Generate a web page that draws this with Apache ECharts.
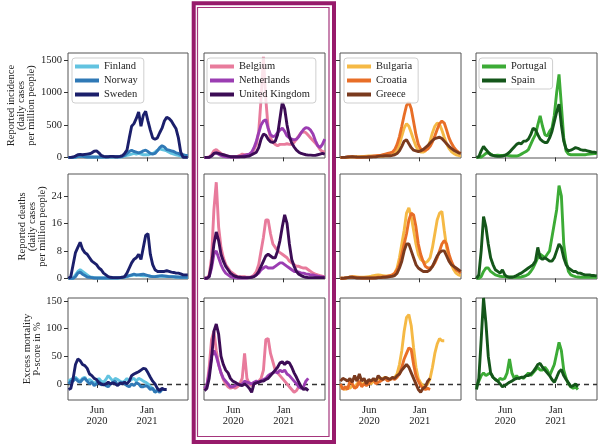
<!DOCTYPE html>
<html><head><meta charset="utf-8">
<script src="https://cdn.jsdelivr.net/npm/echarts@6/dist/echarts.min.js"></script>
<style>html,body{margin:0;padding:0;background:#fff}#c{width:598px;height:446px}</style>
</head><body><div id="c"></div>
<script>
// x positions: day number counted from 2020-01-01 (day 0)
const days = [30,40,50,60,70,80,90,100,110,120,130,140,150,160,170,180,190,200,210,220,230,240,250,260,270,280,290,300,310,320,330,340,350,360,370,380,390,400,410,420,430,440,450,460,470,480,490,500,510,520,530,540];
const xTickDays = [152, 366];
const xTickLabels = ['Jun\n2020', 'Jan\n2021'];
const rowNames = ['Reported incidence\n(daily cases\nper million people)', 'Reported deaths\n(daily cases\nper million people)', 'Excess mortality\nP-score in %'];
const casesTicks = [0, 500, 1000, 1500];
const deathsTicks = [0, 8, 16, 24];
const excessTicks = [0, 50, 100, 150];

const group1 = ['Finland', 'Norway', 'Sweden'];
const group2 = ['Belgium', 'Netherlands', 'United Kingdom'];
const group3 = ['Bulgaria', 'Croatia', 'Greece'];
const group4 = ['Portugal', 'Spain'];

// Reported incidence (daily cases per million)
const finlandCases = [0,0,0,0,15,20,20,15,10,5,4,3,3,3,3,3,4,4,5,5,5,5,5,10,20,30,40,50,60,50,60,50,40,40,40,50,60,80,110,130,120,110,100,80,60,50,40,30,20,10,10,10];
const norwayCases = [0,0,0,3,15,20,15,10,5,5,5,5,5,5,5,5,5,8,10,10,10,10,10,15,30,60,90,110,90,80,70,80,100,110,90,60,50,60,100,150,180,160,120,110,100,90,70,60,40,40,30,30];
const swedenCases = [0,0,5,20,40,45,40,45,50,55,70,95,100,70,30,15,10,10,15,15,10,10,15,25,60,110,300,480,520,600,700,480,650,710,560,420,300,280,300,380,450,560,620,600,560,500,440,300,80,0,0,0];
const belgiumCases = [0,0,5,40,100,120,90,60,40,30,20,10,10,10,15,30,50,40,40,40,60,120,200,400,900,1550,900,450,300,230,200,180,200,200,200,210,200,200,230,280,330,380,400,380,340,300,260,220,180,120,90,80];
const netherlandsCases = [0,0,0,20,60,70,50,30,15,10,5,5,5,5,5,10,20,30,40,50,80,150,250,380,500,560,580,450,350,320,330,380,420,450,400,330,300,280,270,280,320,380,430,460,450,420,360,260,180,150,200,280];
const ukCases = [0,0,0,20,60,70,60,50,40,30,20,10,10,10,10,10,10,10,15,20,40,60,80,150,280,360,340,280,240,230,250,350,600,850,750,500,320,220,160,110,80,60,50,40,35,35,30,30,40,50,60,50];
const bulgariaCases = [0,0,0,2,5,8,10,10,12,15,15,18,20,20,18,15,15,18,20,22,25,30,40,60,100,200,330,450,520,480,380,270,170,110,80,80,100,150,250,380,480,530,510,420,310,210,140,90,60,40,30,20];
const croatiaCases = [0,0,0,5,10,10,5,2,2,2,5,5,10,15,20,25,30,30,40,50,60,70,80,120,200,320,480,650,800,850,750,550,350,200,130,110,110,130,170,240,330,430,520,560,530,420,300,220,160,110,80,60];
const greeceCases = [0,0,2,5,8,10,8,5,3,3,3,3,5,5,8,10,15,20,20,25,25,25,30,40,60,100,170,250,270,210,150,110,100,90,100,120,150,180,220,260,290,300,310,290,250,210,170,140,110,90,70,60];
const portugalCases = [0,0,5,30,60,70,50,30,30,35,30,30,35,30,25,20,20,20,30,50,70,90,120,200,280,350,500,640,480,350,330,400,450,650,1000,1280,800,300,100,50,40,40,40,40,40,40,40,45,50,55,60,60];
const spainCases = [0,10,100,170,120,80,40,30,20,15,15,20,30,50,80,120,160,200,220,210,250,250,280,350,450,430,350,280,250,230,230,300,400,550,700,820,500,250,130,100,110,130,150,140,120,110,110,100,90,80,80,70];

// Reported deaths (daily per million)
const finlandDeaths = [0,0,0,1,2,2.5,2,1.5,1,0.5,0.3,0.2,0.1,0.1,0.1,0.1,0.1,0.1,0.1,0.1,0.1,0.1,0.1,0.2,0.3,0.5,0.7,0.8,1,0.9,1,0.8,0.7,0.8,0.7,0.6,0.5,0.5,0.5,0.6,0.6,0.5,0.5,0.5,0.5,0.4,0.4,0.3,0.3,0.3,0.2,0.2];
const norwayDeaths = [0,0,0,0.5,1.5,1.8,1.2,0.8,0.4,0.3,0.2,0.1,0.1,0.1,0.1,0.1,0.1,0.1,0.1,0.1,0.1,0.1,0.2,0.3,0.4,0.6,0.8,1,1.2,1,1,1.1,1.2,1,0.8,0.6,0.5,0.5,0.6,0.7,0.8,0.7,0.6,0.5,0.5,0.5,0.4,0.4,0.3,0.3,0.3,0.3];
const swedenDeaths = [0,0.5,4,7.5,9,10.5,8.5,7.5,7,6,5,4.5,4,3,2.5,1.5,1,0.5,0.3,0.2,0.2,0.2,0.2,0.3,0.5,1.5,3,4.5,5.5,6,7,5.5,9,12.5,13,7,4,2.5,2,2,2,2,2.2,2,1.8,1.7,1.5,1.5,1.3,1,1,1];
const belgiumDeaths = [0,0,1,6,20,28,15,9,6,4,3,2,1.5,1,0.5,0.5,0.5,0.5,0.3,0.3,0.5,1,2,4,8,12,17,17,13,10,9,8,7.5,7,6.5,6,5,4.5,4,3.5,3.5,3.2,3,3,2.5,2,1.5,1.2,1,0.8,0.6,0.5];
const netherlandsDeaths = [0,0,0.5,3,7,8,6,4,2.5,1.5,1,0.5,0.3,0.2,0.1,0.1,0.1,0.1,0.1,0.2,0.3,0.6,1,1.5,2.5,3,3.5,3,3,3,3.5,4,4.5,4.5,4,3.5,3,2.5,2,2,1.8,1.5,1.5,1.3,1.2,1,1,0.8,0.6,0.5,0.4,0.3];
const ukDeaths = [0,0,0.5,4,10,13.5,11,7,5,3.5,2.5,1.5,1,0.6,0.4,0.3,0.2,0.2,0.2,0.2,0.3,0.5,1,2,3.5,5,6.5,7,6.5,6,6,8,11,15,18.5,16,10,5.5,3.5,2,1.2,0.8,0.5,0.3,0.2,0.2,0.2,0.2,0.2,0.2,0.2,0.2];
const bulgariaDeaths = [0,0,0.1,0.2,0.4,0.5,0.5,0.4,0.3,0.3,0.3,0.4,0.5,0.6,0.8,0.9,1,0.9,0.8,0.7,0.7,0.8,1,1.5,3,6,10,14,19,20.5,18,14,10,7,5.5,5,4.5,5,6,9,13,17,19,19.5,14,9,6,4,2.5,1.5,1,0.8];
const croatiaDeaths = [0,0,0.1,0.2,0.3,0.4,0.3,0.2,0.2,0.1,0.1,0.1,0.1,0.1,0.1,0.2,0.3,0.3,0.4,0.5,0.6,0.8,1,1.5,2.5,4,7,10,13,17,19,18.5,15,10,7,5,3.5,3,3,3.5,4.5,6,8,10,11,10,7,5,3.5,2.5,2,1.5];
const greeceDeaths = [0,0,0.1,0.2,0.3,0.3,0.2,0.1,0.1,0.1,0.1,0.1,0.1,0.1,0.1,0.1,0.2,0.2,0.3,0.3,0.4,0.5,0.6,0.8,1.5,3,5,8,10,10,8,6,4,3,2.5,2,2,2,2.5,3.5,5,6.5,7.5,8,8,6.5,5,4,3.5,3,2.5,2];
const portugalDeaths = [0,0,0.5,2,3,3,2,1.5,1,0.8,0.6,0.5,0.5,0.4,0.4,0.4,0.3,0.3,0.3,0.4,0.6,0.8,1.2,2,3,4.5,6,7,6.5,6,7,8,12,16,20,27,24,10,5,2,1,0.7,0.5,0.4,0.3,0.3,0.3,0.3,0.3,0.3,0.3,0.3];
const spainDeaths = [0,1,8,18,15,10,6,4,2.5,2,1.5,2.5,1,0.5,0.3,0.3,0.5,0.8,1.2,1.5,2,2.5,3,3.5,4,5,9,6,5.5,6,5.5,5,5,6,8,10,9,6,4,3,2.5,2,2,1.5,1.5,1.2,1,1,1,0.8,0.8,0.7];

// Excess mortality P-score (%)
const finlandExcess = [5,8,10,12,8,5,10,12,5,8,5,0,5,10,5,3,8,15,10,5,10,8,5,3,5,10,5,8,10,5,10,8,5,3,0,-5,-8,-15,-10,-12];
const norwayExcess = [0,5,5,10,5,3,8,10,5,0,3,-3,0,5,-2,0,-3,-5,0,3,5,-2,0,3,0,-3,-5,0,-3,2,0,-5,-5,-3,-5,-10,-8,-15,-12,-15,-10,-10];
const swedenExcess = [-10,-8,10,35,45,42,35,33,28,18,15,10,8,2,0,-2,0,3,0,2,0,-3,2,0,3,0,5,15,18,20,22,25,28,27,20,12,5,0,-8,-12,-8,-10,-10];
const belgiumExcess = [-10,-5,30,80,95,60,35,20,8,0,-5,-8,-5,-8,-5,0,10,55,10,0,-3,0,3,5,10,25,80,82,55,40,25,20,15,10,5,0,-5,-10,-15,-12,-5];
const netherlandsExcess = [-8,-3,20,50,60,50,35,20,10,5,0,-5,-5,-3,0,-2,0,5,3,2,0,3,5,3,5,8,10,15,18,20,22,20,25,22,25,18,15,10,5,0,-5,-8,-5,5,10];
const ukExcess = [-12,-8,10,45,95,108,90,50,35,25,20,10,5,3,0,-2,-3,0,-3,-8,-15,0,2,3,5,5,8,10,15,20,25,30,38,40,35,40,38,30,20,12,3,-5,-10,-8,-12];
const bulgariaExcess = [-5,-8,-10,-5,-8,-3,-5,0,5,-2,2,5,3,0,5,8,10,8,10,12,10,8,10,12,18,35,60,95,120,125,105,65,30,10,2,-3,-5,0,10,30,55,72,82,78,78];
const croatiaExcess = [0,-10,-5,-10,5,0,-8,-5,5,-5,0,-3,0,5,8,0,3,5,8,10,5,8,10,8,12,18,30,45,55,65,62,35,15,5,-3,-8,-10,-8,-10];
const greeceExcess = [5,10,8,5,10,3,15,5,18,5,10,0,8,5,10,5,15,10,8,12,10,8,12,10,15,18,25,30,35,30,20,10,0,-10,-15,-8,-5,5,10];
const portugalExcess = [-5,5,15,20,15,18,20,12,8,5,10,8,10,20,45,20,10,15,10,12,10,15,20,15,20,25,30,25,25,30,25,15,25,35,55,75,60,25,10,0,-5,-8,-5,-10];
const spainExcess = [-10,10,80,155,110,50,20,12,8,5,0,-5,-3,0,3,5,8,10,10,12,12,15,15,18,22,28,35,37,30,25,20,15,8,3,12,22,26,15,8,2,-5,-3,0,-5];

const colorOf = {
  'Finland': '#62c3e0', 'Norway': '#2f79b6', 'Sweden': '#1b1f6b',
  'Belgium': '#e87b9c', 'Netherlands': '#9b3db2', 'United Kingdom': '#3c0c55',
  'Bulgaria': '#f5b945', 'Croatia': '#e86e27', 'Greece': '#7a3a1e',
  'Portugal': '#3cab36', 'Spain': '#14561a'
};

const groups = [group1, group2, group3, group4];
const rows = [
  [[finlandCases, norwayCases, swedenCases],[belgiumCases, netherlandsCases, ukCases],[bulgariaCases, croatiaCases, greeceCases],[portugalCases, spainCases]],
  [[finlandDeaths, norwayDeaths, swedenDeaths],[belgiumDeaths, netherlandsDeaths, ukDeaths],[bulgariaDeaths, croatiaDeaths, greeceDeaths],[portugalDeaths, spainDeaths]],
  [[finlandExcess, norwayExcess, swedenExcess],[belgiumExcess, netherlandsExcess, ukExcess],[bulgariaExcess, croatiaExcess, greeceExcess],[portugalExcess, spainExcess]]
];
const rowTicks = [casesTicks, deathsTicks, excessTicks];

// layout
const FONT = 'Liberation Serif';
const colLeft = [68, 204, 340, 476];
const colWidth = [120, 121, 121, 121];
const rowTop = [53, 174, 298];
const rowHeight = [105, 105, 102];
const yMin = [-10, -0.2, -29];
const yMax = [1610, 30.4, 155];
const legendLeft = [72, 207, 344, 479];
const nameGaps = [29, 20, 26];

const grid = [], xAxis = [], yAxis = [], series = [];
for (let r = 0; r < 3; r++) {
  for (let c = 0; c < 4; c++) {
    const idx = r * 4 + c;
    grid.push({left: colLeft[c], top: rowTop[r], width: colWidth[c], height: rowHeight[r], show: true, borderColor: '#555', borderWidth: 1, backgroundColor: 'transparent'});
    xAxis.push({type: 'value', gridIndex: idx, min: 28, max: 541,
      axisLine: {show: false}, splitLine: {show: false},
      axisTick: {show: true, length: 4, inside: false, lineStyle: {color: '#333', width: 1}, customValues: xTickDays},
      axisLabel: {show: r === 2, customValues: xTickDays, margin: 5, fontFamily: FONT, fontSize: 10.5, color: '#222', lineHeight: 11,
        formatter: v => xTickLabels[xTickDays.indexOf(v)] || ''}});
    yAxis.push({type: 'value', gridIndex: idx, min: yMin[r], max: yMax[r],
      axisLine: {show: false}, splitLine: {show: false},
      axisTick: {show: true, length: 4, lineStyle: {color: '#333', width: 1}, customValues: rowTicks[r]},
      axisLabel: {show: c === 0, customValues: rowTicks[r], margin: 6, fontFamily: FONT, fontSize: 10.5, color: '#222',
        formatter: v => String(v)},
      name: c === 0 ? rowNames[r] : '', nameLocation: 'middle', nameGap: nameGaps[r], nameRotate: 90,
      nameTextStyle: {fontFamily: FONT, fontSize: 10.5, color: '#222', lineHeight: 10, align: 'center'}});
    const names = groups[c];
    names.forEach((n, i) => {
      const vals = rows[r][c][i];
      const data = [];
      vals.forEach((v, j) => { if (v !== null && v !== undefined) data.push([days[j], v]); });
      const s = {type: 'line', name: n, xAxisIndex: idx, yAxisIndex: idx, data: data, symbol: 'none', showSymbol: false,
        lineStyle: {width: 2.9, color: colorOf[n]}, itemStyle: {color: colorOf[n]}, z: 3, animation: false};
      if (r === 2 && i === 0) {
        s.markLine = {silent: true, symbol: 'none', z: 1, animation: false, label: {show: false},
          lineStyle: {type: [5, 4], color: '#333', width: 1.4}, data: [{yAxis: 0}]};
      }
      series.push(s);
    });
  }
}

const legend = groups.map((g, c) => ({
  data: g, orient: 'vertical', left: legendLeft[c], top: 58, icon: 'rect', itemWidth: 24, itemHeight: 4, itemGap: 1,
  padding: [2, 6, 2, 3], borderColor: '#cfcfcf', borderWidth: 1, borderRadius: 3, backgroundColor: 'rgba(255,255,255,0.8)',
  selectedMode: false, textStyle: {fontFamily: FONT, fontSize: 10.5, color: '#222', lineHeight: 13}
}));

const chart = echarts.init(document.getElementById('c'), null, {renderer: 'canvas'});
chart.setOption({
  animation: false, backgroundColor: '#fff',
  grid, xAxis, yAxis, series, legend,
  graphic: [
    {type: 'rect', shape: {x: 193.7, y: 3.3, width: 140.3, height: 438.7}, style: {fill: 'none', stroke: '#971a6b', lineWidth: 4}, z: 100},
    {type: 'rect', shape: {x: 197.5, y: 7.5, width: 131.5, height: 429}, style: {fill: 'none', stroke: '#a5357c', lineWidth: 1.2}, z: 100}
  ]
});
</script></body></html>
